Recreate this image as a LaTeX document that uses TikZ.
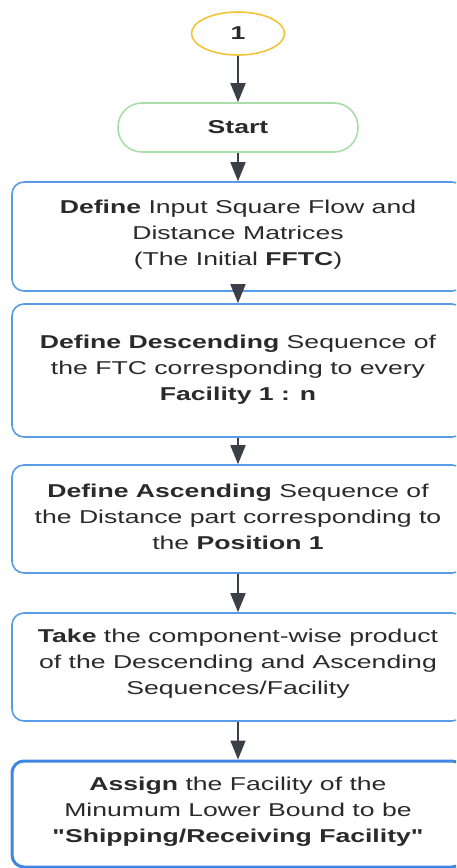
\documentclass[tikz,border=0pt]{standalone}
\usepackage{fontspec}
\setmainfont[FakeStretch=1.43, Ligatures=TeXOff]{Liberation Sans}
\usetikzlibrary{arrows.meta,shapes.geometric}
\definecolor{boxblue}{HTML}{5A9BE8}
\definecolor{lastblue}{HTML}{3F86E0}
\definecolor{startgreen}{HTML}{A9DEA9}
\definecolor{ovalgold}{HTML}{F3C338}
\definecolor{arrowgray}{HTML}{3B3F48}
\definecolor{txt}{HTML}{2A2A2A}
\tikzset{
  stepbox/.style={draw=boxblue, line width=1.6pt, rounded corners=12pt, fill=white,
    minimum width=452pt, text width=440pt, align=center, inner sep=0pt,
    font=\fontsize{18.6}{26}\selectfont, text=txt},
  steptext/.style={font=\fontsize{18.6}{26}\selectfont, text=txt, align=center},
  flow/.style={draw=arrowgray, line width=1.8pt,
    -{Triangle[width=15pt,length=19pt]}},
}
\begin{document}
\begin{tikzpicture}[x=1pt,y=-1pt]
\useasboundingbox (0,0) rectangle (456,868);
\clip (0,0) rectangle (456,868);
\fill[white] (0,0) rectangle (456,868);

% connector oval
\node[ellipse, draw=ovalgold, line width=1.6pt, minimum width=93pt, minimum height=43pt,
  inner sep=0pt, font=\fontsize{18.6}{22}\selectfont\bfseries, text=txt] (one) at (238,33.5) {1};

% start terminal
\node[draw=startgreen, line width=1.6pt, rounded corners=24pt, minimum width=240pt,
  minimum height=49pt, inner sep=0pt, font=\fontsize{18.6}{22}\selectfont\bfseries, text=txt]
  (start) at (238,127.5) {Start};

% process steps
\node[stepbox, minimum height=109pt] (s1) at (238,236.5) {};
\node[steptext] (t1) at (238,234.5)
  {\textbf{Define} Input Square Flow and\\Distance Matrices\\(The Initial \textbf{FFTC})};

\node[stepbox, minimum height=133pt] (s2) at (238,370.5) {};
\node[steptext] (t2) at (238,369.5)
  {\textbf{Define Descending} Sequence of\\the FTC corresponding to every\\\textbf{Facility 1 : n}};

\node[stepbox, minimum height=108pt] (s3) at (238,519) {};
\node[steptext] (t3) at (238,516.5)
  {\textbf{Define Ascending} Sequence of\\the Distance part corresponding to\\the \textbf{Position 1}};

\node[stepbox, minimum height=108pt] (s4) at (238,667) {};
\node[steptext] (t4) at (238,663.5)
  {\textbf{Take} the component-wise product\\of the Descending and Ascending\\Sequences/Facility};

\node[stepbox, draw=lastblue, line width=3pt, minimum height=106pt] (s5) at (238,814) {};
\node[steptext] (t5) at (238,811.5)
  {\textbf{Assign} the Facility of the\\Minumum Lower Bound to be\\\textbf{"Shipping/Receiving Facility"}};

% connectors
\draw[flow] (one) -- (start);
\draw[flow] (start) -- (s1);
\draw[flow] (s1) -- (s2);
\draw[flow] (s2) -- (s3);
\draw[flow] (s3) -- (s4);
\draw[flow] (s4) -- (s5);
\end{tikzpicture}
\end{document}
